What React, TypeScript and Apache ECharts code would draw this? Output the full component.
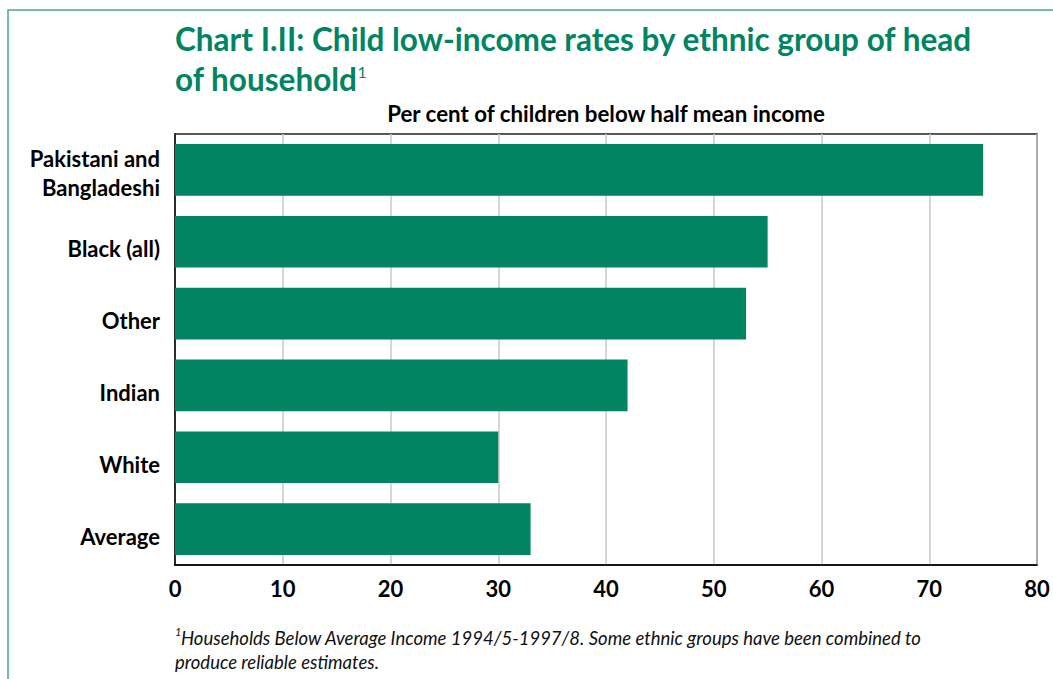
import React, { useEffect, useRef } from "react";
import * as echarts from "echarts";

const categories = ["Pakistani and\nBangladeshi", "Black (all)", "Other", "Indian", "White", "Average"];
const values = [75, 55, 53, 42, 30, 33];
const xTicks = [0, 10, 20, 30, 40, 50, 60, 70, 80];

const GREEN = "#008461";

export default function App() {
  const ref = useRef<HTMLDivElement>(null);
  useEffect(() => {
    document.body.style.margin = "0";
    const chart = echarts.init(ref.current!, null, { renderer: "svg" });
    const labelBase = {
      color: "#000",
      fontFamily: "Lato",
      fontWeight: "bold",
      fontSize: 22,
      lineHeight: 28,
      align: "right",
    };
    chart.setOption({
      animation: false,
      backgroundColor: "#ffffff",
      grid: {
        left: 175,
        top: 134,
        width: 862,
        height: 431,
        show: true,
        borderColor: "#222",
        borderWidth: 1.5,
        containLabel: false,
      },
      xAxis: {
        type: "value",
        min: xTicks[0],
        max: xTicks[xTicks.length - 1],
        interval: 10,
        axisLine: { show: true, lineStyle: { color: "#000", width: 1.5 } },
        axisTick: { show: false },
        splitLine: { show: true, lineStyle: { color: "#c8c8c8", width: 1.5 } },
        axisLabel: {
          margin: 12,
          color: "#000",
          fontFamily: "Lato",
          fontWeight: "bold",
          fontSize: 22,
        },
      },
      yAxis: {
        type: "category",
        inverse: true,
        data: categories,
        axisLine: { show: true, lineStyle: { color: "#000", width: 1.5 } },
        axisTick: { show: false },
        axisLabel: {
          margin: 15,
          ...labelBase,
          formatter: (v: string) => {
            const parts = v.split("\n");
            if (parts.length > 1) {
              return parts.map((p, i) => (i === 0 ? `{f|${p}}` : `{n|${p}}`)).join("\n");
            }
            return `{s|${v}}`;
          },
          rich: {
            f: { ...labelBase, padding: [6, 0, 0, 0] },
            n: { ...labelBase, padding: [8, 0, 0, 0] },
            s: { ...labelBase, padding: [14, 0, 0, 0] },
          },
        },
      },
      series: [
        {
          type: "bar",
          data: values,
          barWidth: "72%",
          itemStyle: { color: GREEN },
        },
      ],
      graphic: [
        {
          type: "rect",
          shape: { x: 8, y: 10, width: 1200, height: 800 },
          style: { fill: "none", stroke: "#4aa88a", lineWidth: 1.5 },
          silent: true,
        },
        {
          type: "text",
          x: 175,
          y: 23,
          scaleX: 0.985,
          style: {
            text: "Chart I.II: Child low-income rates by ethnic group of head",
            fill: GREEN,
            font: "bold 32px Lato",
          },
        },
        {
          type: "text",
          x: 175,
          y: 63,
          scaleX: 0.985,
          style: {
            text: "of household{sup|1}",
            fill: GREEN,
            font: "bold 32px Lato",
            rich: {
              sup: { fontSize: 16, fontWeight: "normal", fontFamily: "Lato", fill: GREEN, verticalAlign: "top" },
            },
          },
        },
        {
          type: "text",
          x: 606,
          y: 113,
          style: {
            text: "Per cent of children below half mean income",
            fill: "#000",
            font: "bold 22.3px Lato",
            align: "center",
            verticalAlign: "middle",
          },
        },
        {
          type: "text",
          x: 175,
          y: 626,
          style: { text: "1", fill: "#111", font: "italic 11px Lato" },
        },
        {
          type: "text",
          x: 181,
          y: 638,
          style: {
            text: "Households Below Average Income 1994/5-1997/8. Some ethnic groups have been combined to",
            fill: "#111",
            font: "italic 18.5px Lato",
            verticalAlign: "middle",
          },
        },
        {
          type: "text",
          x: 175,
          y: 662,
          style: {
            text: "produce reliable estimates.",
            fill: "#111",
            font: "italic 18.5px Lato",
            verticalAlign: "middle",
          },
        },
      ],
    });
    return () => chart.dispose();
  }, []);
  return <div ref={ref} style={{ width: 1053, height: 679 }} />;
}
